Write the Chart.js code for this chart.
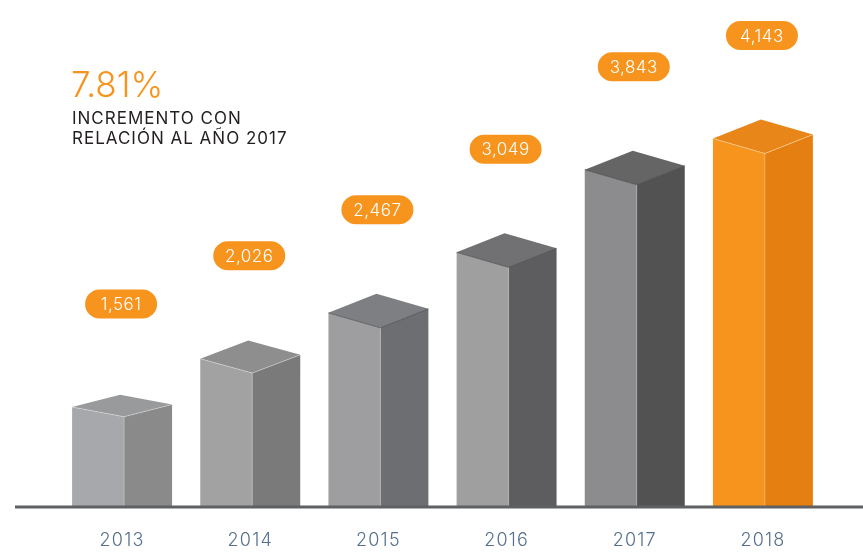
<!DOCTYPE html>
<html>
<head>
<meta charset="utf-8">
<script src="https://cdn.jsdelivr.net/npm/chart.js@4.4.1/dist/chart.umd.min.js"></script>
<style>
  html, body { margin: 0; padding: 0; background: #ffffff; }
  #wrap { width: 863px; height: 554px; position: relative; }
</style>
</head>
<body>
<div id="wrap"><canvas id="c" width="863" height="554"></canvas></div>
<script>
// ---- data ----
const years = ['2013', '2014', '2015', '2016', '2017', '2018'];
const totals = [1561, 2026, 2467, 3049, 3843, 4143];
const valueLabels = ['1,561', '2,026', '2,467', '3,049', '3,843', '4,143'];
const headlineValue = '7.81%';
const headlineLines = ['INCREMENTO CON', 'RELACIÓN AL AÑO 2017'];

// ---- styles ----
const frontColors = ['#a7a8ab', '#a2a2a3', '#9e9ea0', '#9f9fa0', '#8c8c8e', '#f7941d'];
const sideColors  = ['#8a8a8a', '#7a7a7a', '#6d6e72', '#5d5d5f', '#525252', '#e57f12'];
const topColors   = ['#999a9c', '#8e8e8f', '#7e7f82', '#717173', '#656566', '#e8861a'];
const pillColor = '#f7941d';
const FONT = 'Inter, "Open Sans", sans-serif';

const bars3d = {
  id: 'bars3d',
  beforeDraw(chart) {
    chart.ctx.letterSpacing = '1.2px';
  },
  beforeDatasetsDraw(chart) {
    chart.ctx.letterSpacing = '0px';
  },
  afterDatasetsDraw(chart) {
    const ctx = chart.ctx;
    const meta = chart.getDatasetMeta(0);
    const yb = chart.chartArea.bottom;
    meta.data.forEach((el, i) => {
      const p = el.getProps(['x', 'y', 'base', 'width'], true);
      const w = p.width, x0 = p.x - w / 2, fw = w * 0.52;
      const yT = p.y, base = Math.min(p.base, yb);
      const k = Math.min(1, (base - yT) / 155);
      const mY = yT + 15 * k, rY = yT - 4 * k;
      const bX = x0 + w - fw, bY = yT - 19 * k;
      ctx.save();
      // front face
      ctx.fillStyle = frontColors[i];
      ctx.beginPath();
      ctx.moveTo(x0, base); ctx.lineTo(x0, yT); ctx.lineTo(x0 + fw, mY); ctx.lineTo(x0 + fw, base);
      ctx.closePath(); ctx.fill();
      // side face
      ctx.fillStyle = sideColors[i];
      ctx.beginPath();
      ctx.moveTo(x0 + fw, base); ctx.lineTo(x0 + fw, mY); ctx.lineTo(x0 + w, rY); ctx.lineTo(x0 + w, base);
      ctx.closePath(); ctx.fill();
      // top face
      ctx.fillStyle = topColors[i];
      ctx.beginPath();
      ctx.moveTo(x0, yT); ctx.lineTo(x0 + fw, mY); ctx.lineTo(x0 + w, rY); ctx.lineTo(bX, bY);
      ctx.closePath(); ctx.fill();
      // edges
      ctx.strokeStyle = i === 5 ? 'rgba(255,210,150,0.7)' : (i < 2 ? 'rgba(255,255,255,0.35)' : 'rgba(60,60,60,0.6)');
      ctx.lineWidth = 1;
      ctx.beginPath();
      ctx.moveTo(x0, yT); ctx.lineTo(x0 + fw, mY); ctx.lineTo(x0 + w, rY);
      ctx.stroke();
      ctx.strokeStyle = 'rgba(255,255,255,0.25)';
      ctx.beginPath();
      ctx.moveTo(x0 + fw, mY); ctx.lineTo(x0 + fw, base);
      ctx.stroke();

      // value pill
      const cy = yT - 103, cx = p.x - 1;
      const pw = 72, ph = 29, r = ph / 2;
      ctx.fillStyle = pillColor;
      ctx.beginPath();
      ctx.moveTo(cx - pw / 2 + r, cy - r);
      ctx.lineTo(cx + pw / 2 - r, cy - r);
      ctx.arc(cx + pw / 2 - r, cy, r, -Math.PI / 2, Math.PI / 2);
      ctx.lineTo(cx - pw / 2 + r, cy + r);
      ctx.arc(cx - pw / 2 + r, cy, r, Math.PI / 2, Math.PI * 1.5);
      ctx.closePath(); ctx.fill();
      ctx.fillStyle = '#ffffff';
      ctx.font = '300 17px ' + FONT;
      ctx.letterSpacing = '0.5px';
      ctx.textAlign = 'center';
      ctx.textBaseline = 'middle';
      ctx.fillText(valueLabels[i], cx, cy + 1);
      ctx.restore();
    });
    // baseline
    ctx.save();
    ctx.strokeStyle = '#5f6062';
    ctx.lineWidth = 3;
    ctx.beginPath();
    ctx.moveTo(15, yb); ctx.lineTo(chart.width, yb);
    ctx.stroke();
    // headline
    ctx.textAlign = 'left';
    ctx.textBaseline = 'alphabetic';
    ctx.fillStyle = '#f7941d';
    ctx.font = '300 35px ' + FONT;
    ctx.letterSpacing = '0px';
    ctx.fillText(headlineValue, 71, 97);
    ctx.fillStyle = '#231f20';
    ctx.font = '400 17px ' + FONT;
    ctx.letterSpacing = '1px';
    ctx.fillText(headlineLines[0], 72, 124);
    ctx.fillText(headlineLines[1], 72, 144);
    ctx.restore();
    ctx.letterSpacing = '0px';
  }
};

new Chart(document.getElementById('c'), {
  type: 'bar',
  data: {
    labels: years,
    datasets: [{
      data: totals,
      backgroundColor: 'rgba(0,0,0,0)',
      borderWidth: 0,
      barPercentage: 0.78,
      categoryPercentage: 1.0
    }]
  },
  options: {
    responsive: false,
    animation: false,
    events: [],
    layout: { padding: { left: 58, right: 36, top: 0, bottom: 0 } },
    plugins: { legend: { display: false }, tooltip: { enabled: false } },
    scales: {
      x: {
        grid: { display: false, drawTicks: false },
        border: { display: false },
        ticks: { color: '#566f8c', font: { family: FONT, size: 18, weight: '300' }, padding: 23 },
        afterFit(scale) { scale.height = 47; }
      },
      y: {
        display: false,
        min: 600,
        max: 5475
      }
    }
  },
  plugins: [bars3d]
});
</script>
</body>
</html>
